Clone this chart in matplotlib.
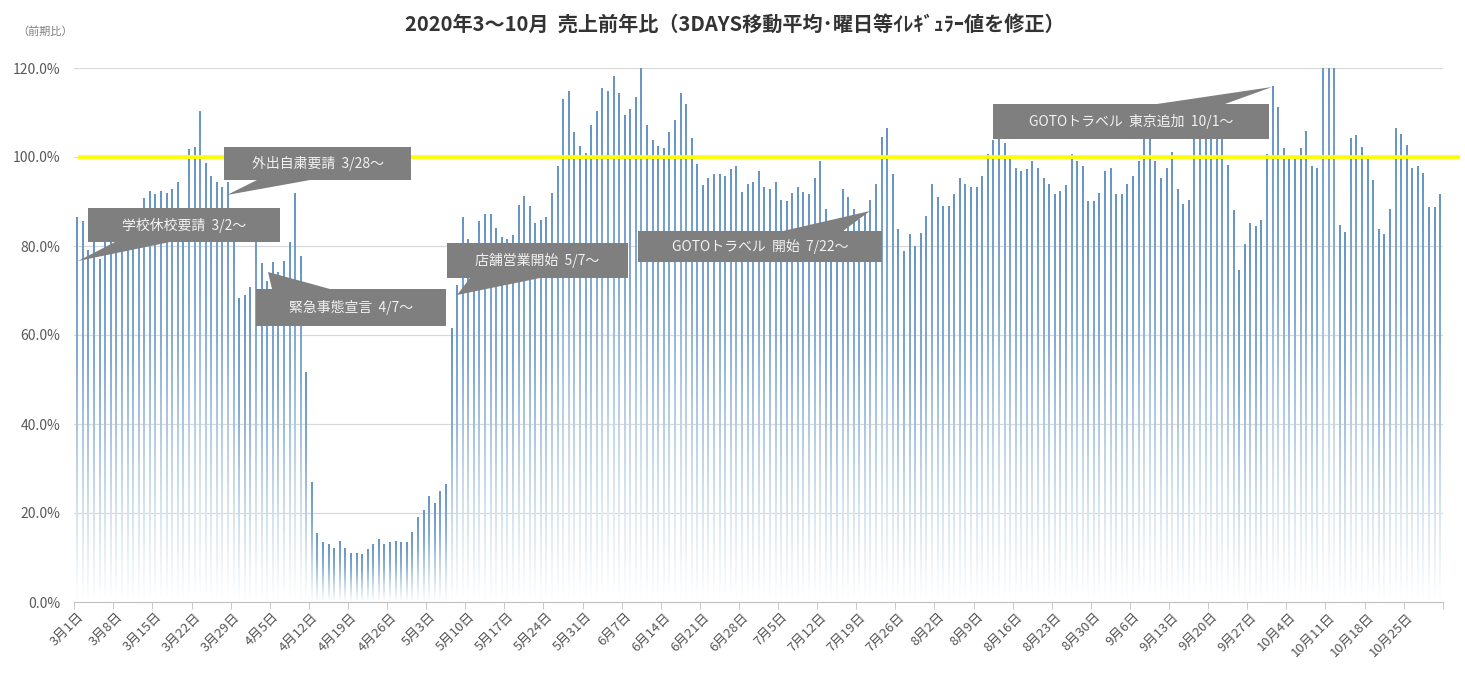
"""Daily sales vs previous year, Mar-Oct 2020 (3-day moving average)."""

import numpy as np
import pandas as pd
import matplotlib
matplotlib.use("Agg")
from matplotlib import pyplot as plt
from matplotlib.colors import LinearSegmentedColormap
from matplotlib.patches import Rectangle, Polygon

plt.rcParams['font.family'] = ['Noto Sans CJK JP', 'DejaVu Sans']

W, H = 1465, 681

# one value per day, 2020-03-01 .. 2020-10-31 (percent)
dates = pd.date_range("2020-03-01", "2020-10-31", freq="D")
ratio = [
    86.3, 85.5, 79.0, 81.0, 76.9, 83.0, 84.0, 85.0, 86.0, 87.0,
    86.0, 88.0, 90.7, 92.2, 91.5, 92.2, 91.8, 92.7, 94.2, 88.0,
    101.6, 102.2, 110.3, 98.6, 95.6, 94.2, 93.1, 94.2, 86.0, 68.1,
    68.8, 70.6, 88.1, 76.0, 72.0, 76.3, 74.0, 76.6, 80.7, 91.8,
    77.6, 51.6, 26.9, 15.3, 13.3, 12.9, 12.1, 13.7, 12.1, 10.9,
    10.9, 10.6, 11.7, 13.0, 14.1, 13.0, 13.3, 13.7, 13.3, 13.3,
    15.7, 19.0, 20.5, 23.7, 22.2, 24.9, 26.4, 61.5, 71.2, 86.4,
    81.5, 79.0, 85.5, 87.1, 87.1, 83.9, 81.9, 81.5, 82.3, 89.1,
    91.1, 88.8, 85.1, 85.8, 86.4, 91.8, 97.8, 113.0, 114.7, 105.5,
    102.3, 100.7, 107.0, 110.2, 115.4, 114.7, 118.2, 114.3, 109.4, 110.7,
    113.4, 121.0, 107.0, 103.8, 102.3, 101.8, 105.5, 108.3, 114.3, 111.8,
    104.2, 98.3, 93.5, 95.2, 96.0, 96.0, 95.6, 97.2, 97.8, 92.0,
    93.9, 94.2, 96.7, 93.1, 92.7, 94.2, 90.3, 90.0, 91.8, 93.1,
    92.0, 91.5, 95.1, 99.1, 88.2, 82.0, 82.0, 92.7, 90.9, 88.2,
    86.0, 87.0, 90.3, 93.9, 104.3, 106.3, 96.0, 83.6, 78.7, 82.5,
    80.0, 82.8, 86.7, 93.9, 90.9, 88.8, 88.8, 91.5, 95.2, 93.9,
    93.1, 93.1, 95.6, 100.6, 103.6, 106.0, 103.1, 99.5, 97.5, 96.7,
    97.1, 98.9, 97.5, 95.1, 93.9, 91.5, 92.2, 93.5, 100.6, 98.9,
    97.8, 90.0, 90.0, 91.8, 96.7, 97.5, 91.5, 91.5, 93.9, 95.6,
    98.9, 106.0, 107.0, 98.9, 95.1, 97.5, 101.0, 92.6, 89.4, 90.3,
    108.0, 109.0, 108.0, 107.0, 108.0, 106.0, 98.2, 87.9, 74.5, 80.4,
    85.1, 84.3, 85.8, 100.6, 115.8, 111.1, 101.9, 99.5, 99.5, 101.9,
    105.8, 97.8, 97.5, 125.0, 125.0, 125.0, 84.7, 83.1, 104.2, 104.9,
    102.2, 99.5, 94.7, 83.7, 82.6, 88.2, 106.3, 105.1, 102.5, 97.5,
    97.8, 96.3, 88.7, 88.7, 91.5,
]
tick_labels = ["{}月{}日".format(d.month, d.day) for d in dates[::7]]
y_ticks = [0, 20, 40, 60, 80, 100, 120]
target = 100

# callouts: text, box (left, top, right, bottom px), wedge (base pts + tip px)
callouts = [
    ("学校休校要請  3/2～", (88, 208, 280, 242), [(115, 242), (170, 242), (78, 261)]),
    ("外出自粛要請  3/28～", (224, 147, 411, 180), [(257, 180), (310, 180), (227, 195)]),
    ("緊急事態宣言  4/7～", (256, 289, 446, 326), [(272, 289), (330, 289), (268, 272)]),
    ("店舗営業開始  5/7～", (447, 243, 628, 278), [(470, 278), (540, 278), (457, 295)]),
    ("GOTOトラベル  開始  7/22～", (638, 231, 882, 262), [(783, 231), (843, 231), (870, 211)]),
    ("GOTOトラベル  東京追加  10/1～", (993, 104, 1269, 139), [(1157, 104), (1225, 104), (1272, 87)]),
]


def fig_xy(x, y):
    return (x / W, 1 - y / H)


fig = plt.figure(figsize=(W / 100, H / 100), dpi=100)
ax = fig.add_axes([74.2 / W, 79 / H, 1368.6 / W, 534 / H])

n = len(ratio)
bar_w = 0.27
cmap = LinearSegmentedColormap.from_list(
    "fade", [(0, "#ffffff"), (0.3, "#c8dbeb"), (0.65, "#84acd1"), (1, "#6796c4")])
grad = np.linspace(0, 1, 128).reshape(-1, 1)
for i, v in enumerate(ratio):
    ax.imshow(grad, extent=[i - bar_w / 2, i + bar_w / 2, 0, v], origin="lower",
              cmap=cmap, aspect="auto", interpolation="bilinear", zorder=2)

ax.set_xlim(-0.5, n - 0.5)
ax.set_ylim(0, 120)

for yv in y_ticks[1:]:
    ax.axhline(yv, color="#d9d9d9", lw=0.9, zorder=1)

ax.set_yticks(y_ticks)
ax.set_yticklabels(["{:.1f}%".format(v) for v in y_ticks], fontsize=10, color="#595959")
ax.tick_params(axis="y", length=0, pad=10)

ax.set_xticks(np.arange(0, n, 7))
ax.set_xticklabels(tick_labels, rotation=45, ha="right", va="top",
                   rotation_mode="anchor", fontsize=9.5, color="#555555")
ax.set_xticks(np.arange(-0.5, n, 7), minor=True)
ax.tick_params(axis="x", which="major", length=0, pad=6)
ax.tick_params(axis="x", which="minor", length=5, color="#bfbfbf")

for side in ["top", "right", "left"]:
    ax.spines[side].set_visible(False)
ax.spines["bottom"].set_color("#bfbfbf")

# 100% reference line
fig.add_artist(plt.Line2D([80 / W, 1458 / W], [1 - 157 / H] * 2,
                          color="#ffff00", lw=2.7, zorder=5))

for text, (l, t, r, b), wedge in callouts:
    x0, y0 = fig_xy(l, b)
    x1, y1 = fig_xy(r, t)
    fig.add_artist(Rectangle((x0, y0), x1 - x0, y1 - y0, transform=fig.transFigure,
                             facecolor="#7f7f7f", edgecolor="none", zorder=6))
    fig.add_artist(Polygon([fig_xy(*p) for p in wedge], closed=True,
                           transform=fig.transFigure, facecolor="#7f7f7f",
                           edgecolor="none", zorder=6))
    cx, cy = fig_xy((l + r) / 2, (t + b) / 2)
    fig.text(cx, cy, text, ha="center", va="center", fontsize=10,
             color="#f2f2f2", zorder=7)

fig.text(735 / W, 1 - 24 / H, "2020年3～10月  売上前年比（3DAYS移動平均･曜日等ｲﾚｷﾞｭﾗｰ値を修正）",
         ha="center", va="center", fontsize=14.5, fontweight="bold", color="#333333")
fig.text(45 / W, 1 - 32 / H, "（前期比）", ha="center", va="center",
         fontsize=8, color="#7f7f7f")

fig.savefig("out.png", dpi=100)
